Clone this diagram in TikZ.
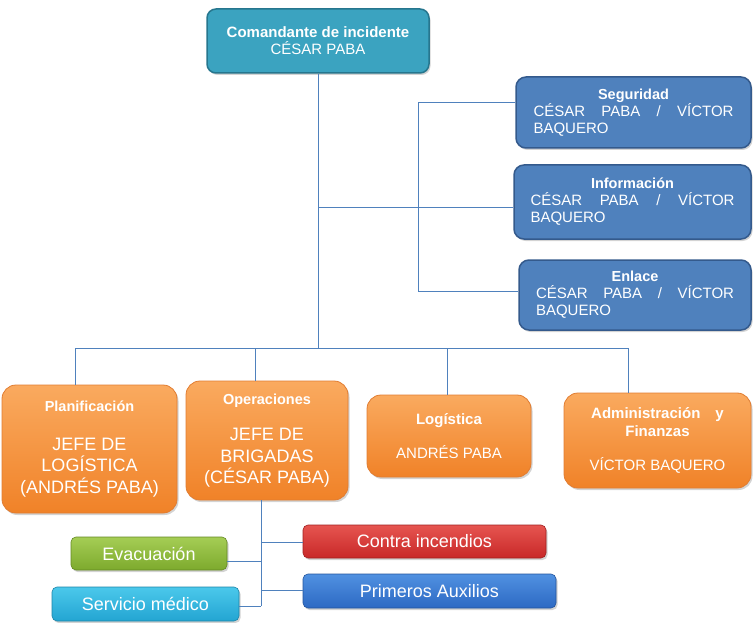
\documentclass[tikz,border=0pt]{standalone}
\usepackage{fontspec}
\setmainfont{Liberation Sans}
\usetikzlibrary{shadows}
\definecolor{cmdfill}{RGB}{59,163,192}
\definecolor{cmdline}{RGB}{38,118,142}
\definecolor{bluefill}{RGB}{79,129,189}
\definecolor{blueline}{RGB}{52,90,140}
\definecolor{orgtop}{RGB}{250,170,95}
\definecolor{orgbot}{RGB}{240,130,40}
\definecolor{orgline}{RGB}{225,125,50}
\definecolor{redtop}{RGB}{230,85,80}
\definecolor{redbot}{RGB}{200,40,40}
\definecolor{pbtop}{RGB}{80,145,225}
\definecolor{pbbot}{RGB}{45,105,195}
\definecolor{grtop}{RGB}{165,205,85}
\definecolor{grbot}{RGB}{125,170,45}
\definecolor{cytop}{RGB}{75,200,235}
\definecolor{cybot}{RGB}{35,165,210}
\definecolor{conn}{RGB}{79,129,189}
\tikzset{
  boxbase/.style={draw, text=white, align=center, inner sep=2pt,
    drop shadow={opacity=0.35, shadow xshift=1.5pt, shadow yshift=-2pt}},
  cmdbox/.style={boxbase, fill=cmdfill, draw=cmdline, line width=1.5pt, rounded corners=9pt,
    minimum width=222pt, minimum height=64pt, font=\fontsize{15}{17}\selectfont},
  sidebox/.style={boxbase, fill=bluefill, draw=blueline, line width=1.5pt, rounded corners=10pt,
    text width=206pt, font=\fontsize{15}{17}\selectfont},
  orgbox/.style={boxbase, top color=orgtop, bottom color=orgbot, draw=orgline, line width=0.8pt,
    rounded corners=14pt},
  smallbox/.style={boxbase, line width=0.6pt, rounded corners=5pt, font=\fontsize{18}{20}\selectfont},
  link/.style={draw=conn, line width=1pt}
}
\begin{document}
\begin{tikzpicture}[x=1pt,y=-1pt]
\useasboundingbox (0,0) rectangle (753,623);
% commander
\node[cmdbox] (cmd) at (318,41) {\textbf{Comandante de incidente}\\CÉSAR PABA};
% side boxes
\node[sidebox, minimum width=235pt, minimum height=71pt] (seg) at (633.5,112.5)
  {\textbf{\fontsize{14.5}{17}\selectfont Seguridad}\\\makebox[200pt]{CÉSAR\hfill PABA\hfill /\hfill VÍCTOR}\\\makebox[200pt][l]{BAQUERO}};
\node[sidebox, minimum width=237pt, minimum height=74pt] (inf) at (632.5,202)
  {\textbf{\fontsize{14.5}{17}\selectfont Información}\\\makebox[204pt]{CÉSAR\hfill PABA\hfill /\hfill VÍCTOR}\\\makebox[204pt][l]{BAQUERO}};
\node[sidebox, minimum width=232pt, minimum height=70pt] (enl) at (635,295)
  {\textbf{\fontsize{14.5}{17}\selectfont Enlace}\\\makebox[198pt]{CÉSAR\hfill PABA\hfill /\hfill VÍCTOR}\\\makebox[198pt][l]{BAQUERO}};
% orange boxes
\node[orgbox, minimum width=175pt, minimum height=128pt, font=\fontsize{18}{21.5}\selectfont] (pla) at (89.5,449)
  {\textbf{\fontsize{14.5}{17}\selectfont Planificación}\\[17pt]JEFE DE\\LOGÍSTICA\\(ANDRÉS PABA)};
\node[orgbox, minimum width=162pt, minimum height=119pt, font=\fontsize{18}{21.5}\selectfont] (ope) at (267,440.5)
  {\textbf{\fontsize{14.5}{17}\selectfont Operaciones}\\[15pt]JEFE DE\\BRIGADAS\\(CÉSAR PABA)};
\node[orgbox, minimum width=164pt, minimum height=82pt, font=\fontsize{15}{17.5}\selectfont] (log) at (449,436)
  {\textbf{Logística}\\[17pt]ANDRÉS PABA};
\node[orgbox, minimum width=187pt, minimum height=95pt, font=\fontsize{15}{17.5}\selectfont] (adm) at (657.5,440.5)
  {\textbf{Administración\quad y}\\\textbf{Finanzas}\\[17pt]VÍCTOR BAQUERO};
% bottom boxes
\node[smallbox, top color=redtop, bottom color=redbot, draw=redbot!80!black, minimum width=243pt, minimum height=33pt] (fire) at (424.5,541.5) {Contra incendios};
\node[smallbox, top color=pbtop, bottom color=pbbot, draw=pbbot!80!black, minimum width=253pt, minimum height=34pt] (aux) at (429.5,591) {Primeros Auxilios};
\node[smallbox, top color=grtop, bottom color=grbot, draw=grbot!80!black, minimum width=156pt, minimum height=33pt] (eva) at (149,553.5) {Evacuación};
\node[smallbox, top color=cytop, bottom color=cybot, draw=cybot!80!black, minimum width=187pt, minimum height=34pt] (med) at (145.5,604) {Servicio médico};
% connectors
\coordinate (trunkA) at (318,208);
\coordinate (trunkB) at (318,348);
\coordinate (sideTop) at (418,103);
\coordinate (sideMid) at (418,208);
\coordinate (sideBot) at (418,291);
\draw[link] (cmd.south) -- (trunkB);
\draw[link] (trunkA) -- (sideMid);
\draw[link] (sideTop) -- (sideBot);
\draw[link] (sideTop) -- (seg.west |- sideTop);
\draw[link] (sideMid) -- (inf.west |- sideMid);
\draw[link] (sideBot) -- (enl.west |- sideBot);
\coordinate (hl) at (75,348);
\coordinate (hr) at (628,348);
\draw[link] (hl) -- (hr);
\draw[link] (hl) -- (75,385);
\draw[link] (255,348) -- (255,381);
\draw[link] (447,348) -- (447,395);
\draw[link] (hr) -- (628,393);
\coordinate (opeb) at (261,500);
\coordinate (opee) at (261,606);
\draw[link] (opeb) -- (opee);
\draw[link] (261,542) -- (fire.west |- 0,542);
\draw[link] (261,561) -- (eva.east |- 0,561);
\draw[link] (261,590) -- (aux.west |- 0,590);
\draw[link] (opee) -- (med.east |- opee);
\end{tikzpicture}
\end{document}
